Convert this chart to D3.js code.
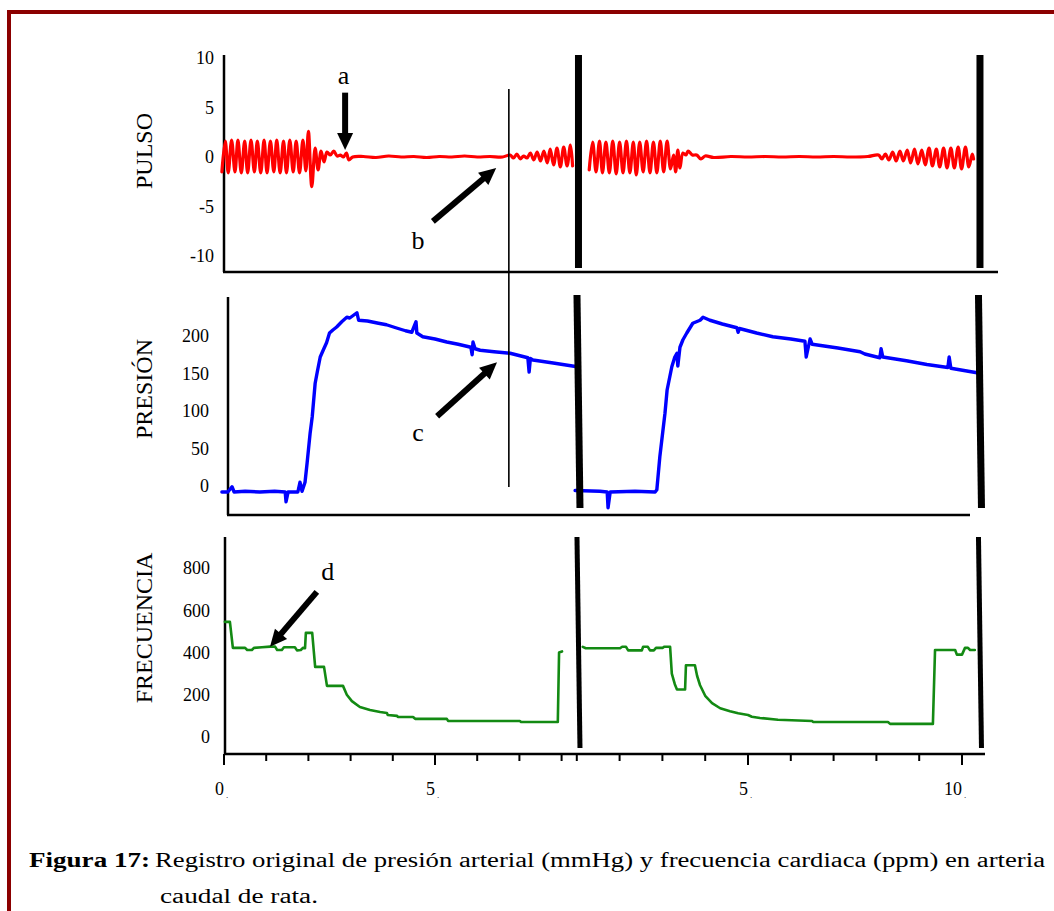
<!DOCTYPE html>
<html>
<head>
<meta charset="utf-8">
<script src="https://cdn.jsdelivr.net/npm/d3@7"></script>
<style>
  body { margin: 0; background: #fff; }
  svg { display: block; }
  text { font-family: "Liberation Serif", "Times New Roman", serif; fill: #000; }
</style>
</head>
<body>
<svg id="chart" width="1054" height="911"></svg>
<script>
// ---- data (time in the two recordings) ----
// pulse trace, [t, value]
var pulseLeft = [
  [-0.05,-1.5],[0.03,1.6],[0.10,-1.6],[0.18,1.7],[0.26,-1.5],[0.33,1.7],[0.41,-1.6],[0.49,1.6],
  [0.56,-1.6],[0.64,1.7],[0.72,-1.5],[0.79,1.6],[0.87,-1.6],[0.95,1.7],[1.02,-1.6],[1.10,1.6],
  [1.18,-1.5],[1.25,1.7],[1.33,-1.6],[1.41,1.6],[1.48,-1.6],[1.56,1.7],[1.64,-1.5],[1.71,1.6],
  [1.79,-1.6],[1.87,1.7],[1.94,-1.4],[2.00,2.6],[2.08,-3.0],[2.16,0.9],[2.23,-1.3],[2.30,0.6],
  [2.37,-0.5],[2.44,0.5],[2.52,0.2],[2.60,0.6],[2.68,0.1],[2.76,0.2],[2.83,0.0],[2.90,0.4],
  [2.96,-0.3],[3.05,0.0],[3.30,0.05],[3.60,-0.05],[3.90,0.1],[4.20,0.0],[4.50,0.05],[4.80,-0.05],
  [5.10,0.05],[5.40,0.0],[5.70,0.1],[6.00,0.0],[6.30,0.05],[6.60,0.0],[6.78,0.2],[6.86,-0.1],
  [6.94,0.3],[7.02,-0.2],[7.10,0.1],[7.18,-0.1],[7.26,0.4],[7.34,-0.3],[7.42,0.5],[7.50,-0.4],
  [7.58,0.6],[7.66,-0.6],[7.73,0.8],[7.81,-0.8],[7.89,0.9],[7.97,-1.0],[8.05,1.0],[8.13,-0.9],
  [8.21,1.2],[8.26,-0.9]
];
var pulseRight = [
  [1.29,-1.3],[1.37,1.5],[1.45,-1.5],[1.53,1.6],[1.60,-1.6],[1.68,1.5],[1.76,-1.6],[1.84,1.6],
  [1.92,-1.7],[2.00,1.5],[2.08,-1.6],[2.16,1.6],[2.24,-1.6],[2.32,1.5],[2.39,-1.8],[2.47,1.5],
  [2.55,-1.5],[2.63,1.6],[2.71,-1.6],[2.79,1.5],[2.87,-1.6],[2.95,1.6],[3.03,-1.5],[3.11,1.6],
  [3.19,-1.2],[3.26,0.2],[3.31,-1.5],[3.36,0.7],[3.41,-1.1],[3.48,0.4],[3.55,0.2],[3.60,0.6],
  [3.70,0.2],[3.80,0.2],[3.90,-0.2],[4.00,0.1],[4.20,-0.05],[4.60,0.05],[5.00,0.0],[5.40,0.05],
  [5.80,0.0],[6.20,0.05],[6.60,0.0],[7.00,0.05],[7.40,0.0],[7.80,0.05],[8.05,0.2],[8.13,-0.2],
  [8.21,0.3],[8.29,-0.3],[8.38,0.5],[8.46,-0.4],[8.55,0.6],[8.63,-0.4],[8.72,0.7],[8.80,-0.6],
  [8.89,0.8],[8.97,-0.7],[9.06,0.7],[9.14,-0.8],[9.23,0.9],[9.31,-0.9],[9.40,0.8],[9.48,-1.0],
  [9.57,0.9],[9.65,-1.1],[9.74,0.9],[9.82,-1.1],[9.91,1.0],[9.99,-1.2],[10.08,1.0],[10.16,-1.0],
  [10.24,0.3],[10.27,-0.2]
];
// pressure trace (mmHg), [t, value]
var presLeft = [
  [-0.05,-8],[0.09,-8],[0.19,-1],[0.24,-8],[0.50,-7],[0.85,-8],[1.20,-7],[1.45,-8],[1.47,-21],
  [1.52,-8],[1.75,-8],[1.80,5],[1.85,-7],[1.92,5],[1.97,31],[2.04,70],[2.09,92],[2.16,137],
  [2.21,152],[2.28,172],[2.35,181],[2.43,191],[2.50,204],[2.58,208],[2.67,212],[2.79,219],
  [2.91,225],[2.98,224],[3.15,231],[3.19,221],[3.40,220],[3.66,217],[3.85,215],[4.07,211],
  [4.30,207],[4.45,205],[4.55,219],[4.57,204],[4.71,199],[5.00,196],[5.28,192],[5.55,189],
  [5.85,185],[5.88,175],[5.90,192],[5.95,183],[6.07,181],[6.40,179],[6.78,177],[7.20,171],
  [7.23,152],[7.26,170],[7.32,168],[7.80,164],[8.37,159]
];
var presRight = [
  [0.96,-6],[1.54,-7],[1.71,-8],[1.73,-29],[1.78,-8],[2.36,-7],[2.83,-8],[2.87,-5],[2.94,39],
  [3.06,97],[3.11,128],[3.22,159],[3.29,172],[3.34,177],[3.36,160],[3.41,185],[3.48,195],
  [3.57,204],[3.71,217],[3.88,221],[3.95,225],[4.11,221],[4.40,216],[4.74,211],[4.77,205],
  [4.80,210],[5.20,204],[5.58,199],[6.00,196],[6.33,193],[6.36,172],[6.45,196],[6.50,189],
  [7.10,184],[7.62,179],[7.73,176],[8.08,171],[8.11,183],[8.15,172],[8.70,167],[9.18,162],
  [9.67,158],[9.70,172],[9.74,157],[10.35,151]
];
// heart rate (ppm), [t, value]
var freqLeft = [
  [0.02,545],[0.14,545],[0.21,422],[0.50,422],[0.55,412],[0.66,412],[0.71,422],[0.90,425],
  [1.09,428],[1.21,428],[1.26,412],[1.37,412],[1.42,425],[1.68,425],[1.73,410],[1.82,412],
  [1.87,422],[1.92,420],[1.94,493],[2.09,493],[2.16,332],[2.37,332],[2.44,242],[2.82,242],
  [2.91,200],[3.03,170],[3.22,142],[3.46,128],[3.70,118],[3.86,114],[3.88,104],[4.10,100],
  [4.12,95],[4.48,95],[4.53,86],[5.28,86],[5.31,76],[7.01,76],[7.04,71],[7.91,71],[7.94,400],
  [8.01,405]
];
var freqRight = [
  [1.14,427],[1.21,420],[2.01,420],[2.06,427],[2.15,427],[2.20,410],[2.52,410],[2.55,427],
  [2.66,427],[2.71,410],[2.80,410],[2.85,422],[3.01,422],[3.04,427],[3.18,427],[3.22,300],
  [3.29,250],[3.34,225],[3.53,225],[3.55,340],[3.76,340],[3.81,290],[3.88,245],[4.00,195],
  [4.16,160],[4.35,136],[4.58,122],[4.77,112],[5.00,104],[5.09,96],[5.28,90],[5.70,82],
  [6.50,76],[6.52,71],[8.27,71],[8.32,62],[9.32,62],[9.37,412],[9.84,412],[9.88,390],
  [10.00,390],[10.07,422],[10.14,422],[10.19,412],[10.30,412]
];

var pulsoTicks = [10, 5, 0, -5, -10];
var presTicks = [200, 150, 100, 50, 0];
var freqTicks = [800, 600, 400, 200, 0];
var timeTicksLeft = [0, 1, 2, 3, 4, 5, 6, 7, 8];
var timeTicksRight = [1, 2, 3, 4, 5, 6, 7, 8, 9, 10];
var timeLabelsLeft = [0, 5];
var timeLabelsRight = [5, 10];
var breakLeft = 8.4, breakRight = 10.42;   // end of each recording
var markerTime = 6.75;                     // thin vertical marker

var svg = d3.select("#chart");

// frame
svg.append("line").attr("x1", 9).attr("y1", 12).attr("x2", 1054).attr("y2", 12)
  .attr("stroke", "#8b0000").attr("stroke-width", 4);
svg.append("line").attr("x1", 9).attr("y1", 10).attr("x2", 9).attr("y2", 911)
  .attr("stroke", "#8b0000").attr("stroke-width", 4);

// x scales (two recordings glued side by side)
var xL = d3.scaleLinear().domain([0, 5]).range([224, 435]);
var xR = d3.scaleLinear().domain([5, 10]).range([748, 962]);

// panels
var panels = [
  { name: "PULSO", data: [pulseLeft, pulseRight], color: "#ff0000", width: 3.2,
    curve: d3.curveCatmullRom.alpha(0.5),
    y: d3.scaleLinear().domain([-10, 10]).range([256, 58]), ticks: pulsoTicks,
    axisX: 224, top: 55, bottom: 272, right: 998, labelEnd: 214, titleX: 144, titleY: 151,
    barTop: 55, barBottom: 268, barW: 7, slant: 0 },
  { name: "PRESIÓN", data: [presLeft, presRight], color: "#0000ff", width: 3.4,
    curve: d3.curveLinear,
    y: d3.scaleLinear().domain([0, 200]).range([486, 336]), ticks: presTicks,
    axisX: 228, top: 297, bottom: 515, right: 970, labelEnd: 209, titleX: 144, titleY: 389,
    barTop: 295, barBottom: 508, barW: 7, slant: 3 },
  { name: "FRECUENCIA", data: [freqLeft, freqRight], color: "#138a13", width: 2.6,
    curve: d3.curveLinear,
    y: d3.scaleLinear().domain([0, 800]).range([737, 568]), ticks: freqTicks,
    axisX: 225, top: 537, bottom: 754, right: 985, labelEnd: 210, titleX: 144, titleY: 628,
    barTop: 537, barBottom: 748, barW: 5, slant: 3 }
];

panels.forEach(function (p) {
  var g = svg.append("g");
  // y axis labels (plain hyphen for negatives, as in the figure)
  var ax = g.append("g").attr("transform", "translate(" + p.axisX + ",0)")
    .call(d3.axisLeft(p.y).tickValues(p.ticks).tickSize(0).tickPadding(p.axisX - p.labelEnd)
      .tickFormat(function (d) { return String(d); }));
  ax.select(".domain").remove();
  ax.attr("font-family", null).attr("font-size", null);
  ax.selectAll("text").attr("font-size", 18);
  // axis lines
  g.append("line").attr("x1", p.axisX).attr("x2", p.axisX).attr("y1", p.top).attr("y2", p.bottom)
    .attr("stroke", "#000").attr("stroke-width", 2.5);
  g.append("line").attr("x1", p.axisX - 1).attr("x2", p.right).attr("y1", p.bottom).attr("y2", p.bottom)
    .attr("stroke", "#000").attr("stroke-width", 2.5);
  // title
  g.append("text").attr("transform", "translate(" + p.titleX + "," + p.titleY + ") rotate(-90)")
    .attr("text-anchor", "middle").attr("dominant-baseline", "central")
    .attr("font-size", 24).text(p.name);
  // traces
  var xs = [xL, xR];
  p.data.forEach(function (series, i) {
    var line = d3.line().curve(p.curve)
      .x(function (d) { return xs[i](d[0]); }).y(function (d) { return p.y(d[1]); });
    g.append("path").datum(series).attr("d", line)
      .attr("fill", "none").attr("stroke", p.color).attr("stroke-width", p.width)
      .attr("stroke-linejoin", "round").attr("stroke-linecap", "round");
  });
  // recording breaks
  [xL(breakLeft), xR(breakRight)].forEach(function (bx) {
    g.append("line").attr("x1", bx - p.slant / 2).attr("x2", bx + p.slant / 2)
      .attr("y1", p.barTop).attr("y2", p.barBottom)
      .attr("stroke", "#000").attr("stroke-width", p.barW);
  });
});

// thin marker line across pulse and pressure panels
svg.append("line").attr("x1", xL(markerTime)).attr("x2", xL(markerTime))
  .attr("y1", 89).attr("y2", 487).attr("stroke", "#000").attr("stroke-width", 1.6);

// time axis ticks
var axisY = panels[2].bottom;
function drawTicks(scale, ticks, labels) {
  var g = svg.append("g").attr("transform", "translate(0," + axisY + ")");
  g.selectAll("line").data(ticks).enter().append("line")
    .attr("x1", function (d) { return scale(d); }).attr("x2", function (d) { return scale(d); })
    .attr("y1", 0).attr("y2", function (d) { return labels.indexOf(d) >= 0 ? 11 : 7; })
    .attr("stroke", "#000").attr("stroke-width", 2);
  g.selectAll("text.lab").data(labels).enter().append("text").attr("class", "lab")
    .attr("x", function (d) { return scale(d); }).attr("y", 41)
    .attr("text-anchor", "end").attr("font-size", 18).text(function (d) { return d; });
  g.selectAll("text.dot").data(labels).enter().append("text").attr("class", "dot")
    .attr("x", function (d) { return scale(d) + 2; }).attr("y", 44)
    .attr("font-size", 9).text(".");
}
drawTicks(xL, timeTicksLeft, timeLabelsLeft);
drawTicks(xR, timeTicksRight, timeLabelsRight);

// annotation arrows: [letter, panel, letter pos, tail, tip] in data units of the left recording
var arrows = [
  ["a", 0, [2.83, 8.2], [2.87, 6.5], [2.87, 0.7]],
  ["b", 0, [4.6, -8.4], [4.95, -6.5], [6.45, -1.1]],
  ["c", 1, [4.6, 71], [5.05, 93], [6.47, 165]],
  ["d", 2, [2.46, 782], [2.2, 687], [1.09, 427]]
];
arrows.forEach(function (a) {
  var ys = panels[a[1]].y;
  svg.append("text").attr("x", xL(a[2][0])).attr("y", ys(a[2][1]))
    .attr("text-anchor", "middle").attr("dominant-baseline", "central")
    .attr("font-size", 26).text(a[0]);
  var x0 = xL(a[3][0]), y0 = ys(a[3][1]), x1 = xL(a[4][0]), y1 = ys(a[4][1]);
  var dx = x1 - x0, dy = y1 - y0, len = Math.sqrt(dx * dx + dy * dy);
  var ux = dx / len, uy = dy / len, hl = 17, hw = 8;
  var bx = x1 - ux * hl, by = y1 - uy * hl;
  svg.append("line").attr("x1", x0).attr("y1", y0).attr("x2", bx + ux * 2).attr("y2", by + uy * 2)
    .attr("stroke", "#000").attr("stroke-width", 6);
  svg.append("path")
    .attr("d", "M" + x1 + "," + y1 + "L" + (bx - uy * hw) + "," + (by + ux * hw) +
      "L" + (bx + uy * hw) + "," + (by - ux * hw) + "Z")
    .attr("fill", "#000");
});

// caption
var cap = svg.append("text").attr("y", 867).attr("font-size", 20);
cap.append("tspan").attr("x", 29).attr("font-weight", "bold")
  .attr("textLength", 121).attr("lengthAdjust", "spacingAndGlyphs").text("Figura 17:");
cap.append("tspan").attr("x", 155)
  .attr("textLength", 890).attr("lengthAdjust", "spacingAndGlyphs")
  .text("Registro original de presión arterial (mmHg) y frecuencia cardiaca (ppm) en arteria");
svg.append("text").attr("x", 160).attr("y", 903).attr("font-size", 20)
  .attr("textLength", 158).attr("lengthAdjust", "spacingAndGlyphs").text("caudal de rata.");
</script>
</body>
</html>
